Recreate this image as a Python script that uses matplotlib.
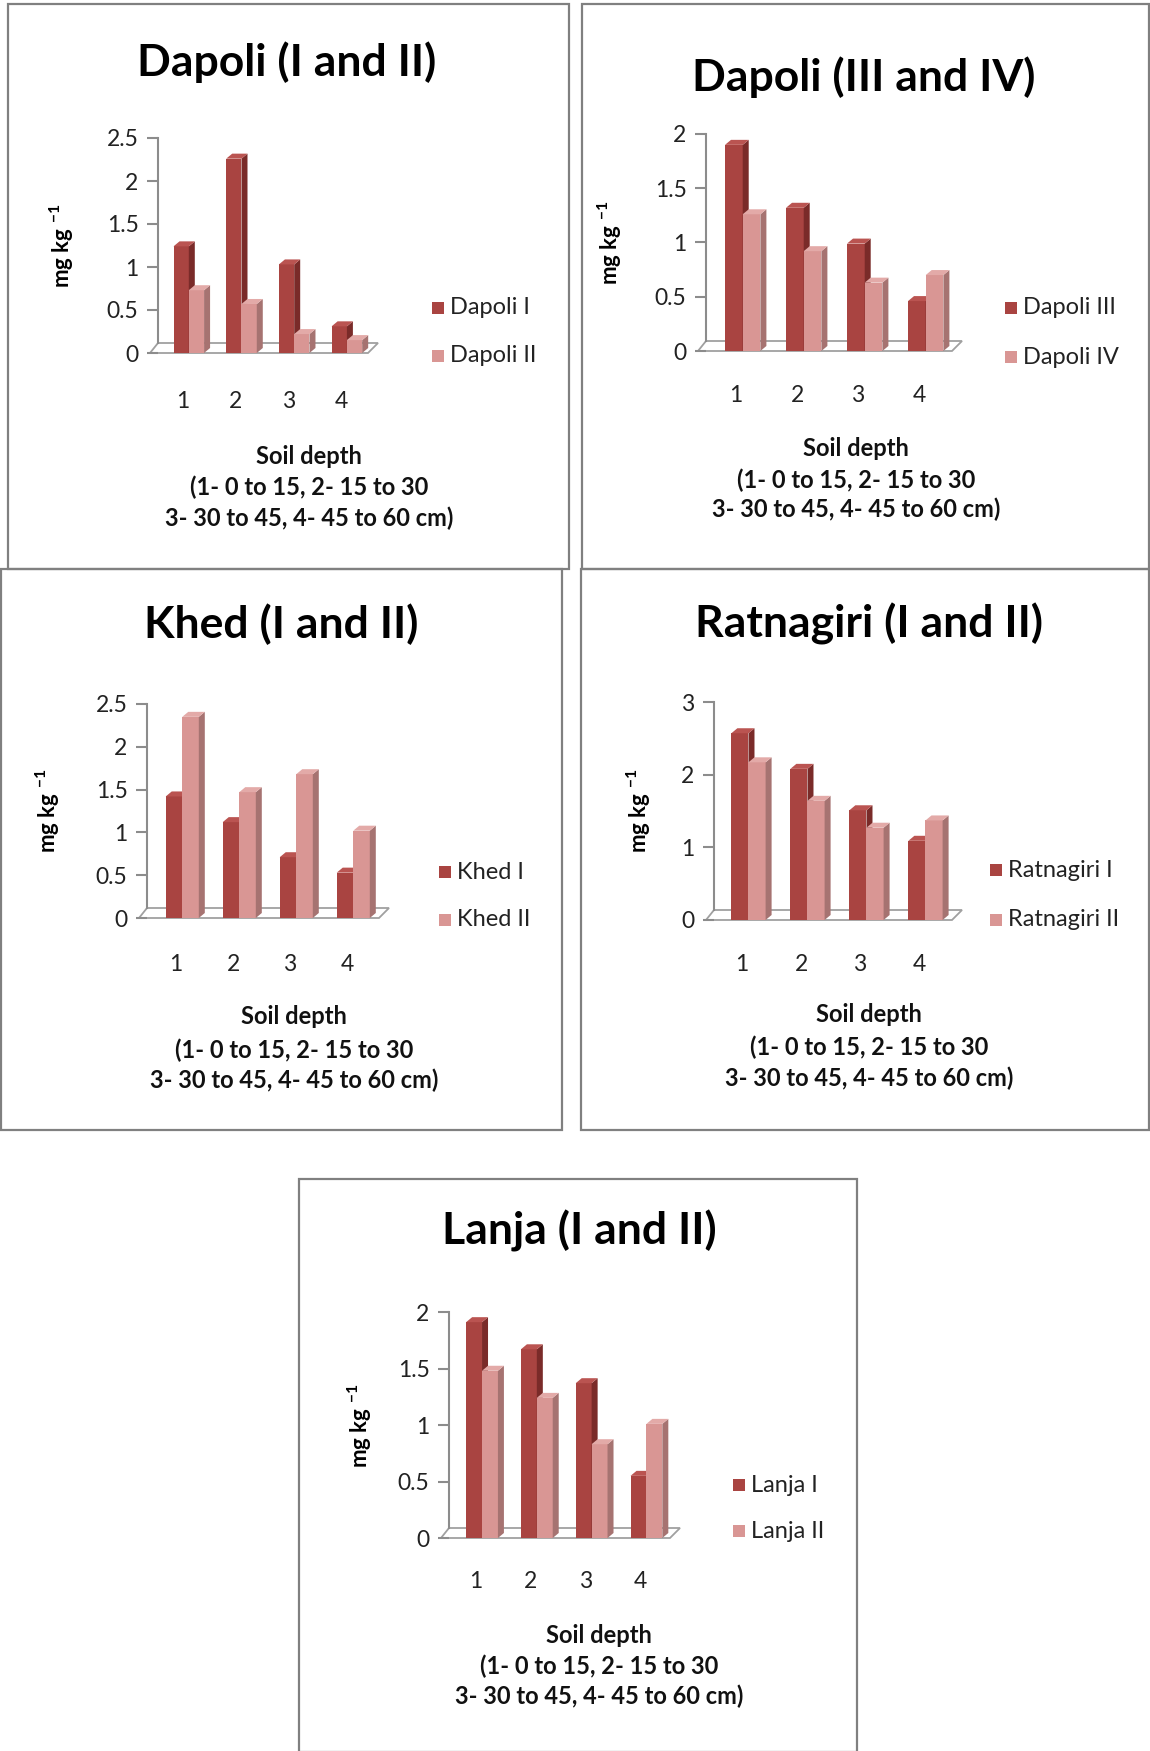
import matplotlib
matplotlib.use("Agg")
import matplotlib.pyplot as plt
from matplotlib.patches import Polygon, Rectangle

plt.rcParams['font.family'] = ['Lato', 'DejaVu Sans']
plt.rcParams['mathtext.fontset'] = 'custom'
plt.rcParams['mathtext.rm'] = 'Lato'
plt.rcParams['mathtext.default'] = 'regular'

# ---------------- data ----------------
depth_labels = ['1', '2', '3', '4']
xlabel_lines = ['Soil depth', '(1- 0 to 15, 2- 15 to 30', '3- 30 to 45, 4- 45 to 60 cm)']
ylabel_text = r'mg kg $^{-1}$'

titles = ['Dapoli (I and II)', 'Dapoli (III and IV)', 'Khed (I and II)',
          'Ratnagiri (I and II)', 'Lanja (I and II)']
series_names = [('Dapoli I', 'Dapoli II'), ('Dapoli III', 'Dapoli IV'),
                ('Khed I', 'Khed II'), ('Ratnagiri I', 'Ratnagiri II'),
                ('Lanja I', 'Lanja II')]

dapoli_1 = [1.24, 2.26, 1.03, 0.31]
dapoli_2 = [0.73, 0.57, 0.22, 0.15]
dapoli_3 = [1.90, 1.32, 0.99, 0.46]
dapoli_4 = [1.26, 0.92, 0.63, 0.70]
khed_1 = [1.42, 1.12, 0.71, 0.53]
khed_2 = [2.35, 1.47, 1.68, 1.02]
ratnagiri_1 = [2.57, 2.08, 1.51, 1.09]
ratnagiri_2 = [2.17, 1.64, 1.27, 1.37]
lanja_1 = [1.91, 1.67, 1.37, 0.55]
lanja_2 = [1.48, 1.24, 0.83, 1.01]

panel_values = [(dapoli_1, dapoli_2), (dapoli_3, dapoli_4), (khed_1, khed_2),
                (ratnagiri_1, ratnagiri_2), (lanja_1, lanja_2)]
y_max = [2.5, 2, 2.5, 3, 2]
y_step = [0.5, 0.5, 0.5, 1, 0.5]

# ---------------- layout (pixels) ----------------
W, H = 1150, 1751
layouts = [
    dict(box=(8, 4, 569, 569), axis_x=158, y0=353, ytop=138, cat1=183, sp=52.7, floor_end=368,
         cat_y=401, leg_x=432, leg_y=(308, 356), title=(287, 62), ylab=(62, 246),
         xlab_x=309, xlab_y=(456, 487, 518)),
    dict(box=(582, 4, 1149, 569), axis_x=706, y0=351, ytop=134, cat1=736, sp=61, floor_end=952,
         cat_y=395, leg_x=1005, leg_y=(308, 357), title=(864, 77), ylab=(610, 243),
         xlab_x=856, xlab_y=(449, 480, 509)),
    dict(box=(1, 569, 562, 1130), axis_x=147, y0=918, ytop=704, cat1=176, sp=57, floor_end=379,
         cat_y=964, leg_x=439, leg_y=(872, 920), title=(281, 624), ylab=(48, 811),
         xlab_x=294, xlab_y=(1017, 1050, 1080)),
    dict(box=(581, 569, 1149, 1130), axis_x=714, y0=920, ytop=702, cat1=742, sp=59, floor_end=952,
         cat_y=964, leg_x=990, leg_y=(870, 920), title=(869, 624), ylab=(639, 811),
         xlab_x=869, xlab_y=(1015, 1047, 1078)),
    dict(box=(299, 1179, 857, 1752), axis_x=449, y0=1538, ytop=1312, cat1=476, sp=54.8, floor_end=670,
         cat_y=1581, leg_x=733, leg_y=(1485, 1531), title=(579, 1231), ylab=(360, 1426),
         xlab_x=599, xlab_y=(1635, 1666, 1696)),
]

dark_front, dark_side, dark_top = '#A94441', '#7A2B29', '#BA5451'
light_front, light_side, light_top = '#D99694', '#A67371', '#E3AAA8'
axis_gray = '#8C8C8C'

fig = plt.figure(figsize=(W / 100, H / 100), dpi=100)


def fx(x):
    return x / W


def fy(y):
    return 1 - y / H


for i in range(5):
    L = layouts[i]
    v1, v2 = panel_values[i]
    ymax = y_max[i]
    sp = L['sp']
    ppu = (L['y0'] - L['ytop']) / ymax  # pixels per value unit

    # panel border
    bx0, by0, bx1, by1 = L['box']
    fig.add_artist(Rectangle((fx(bx0), fy(by1)), (bx1 - bx0) / W, (by1 - by0) / H,
                             transform=fig.transFigure, fill=False,
                             edgecolor='#808080', linewidth=1.6))

    x_left = 1 - (L['cat1'] - L['axis_x']) / sp
    right_px = L['floor_end'] + 14
    x_right = 1 + (right_px - L['cat1']) / sp
    ax = fig.add_axes([fx(L['axis_x']), fy(L['y0']),
                       (right_px - L['axis_x']) / W, (L['y0'] - L['ytop']) / H])
    ax.set_xlim(x_left, x_right)
    ax.set_ylim(0, ymax)
    ax.patch.set_alpha(0)

    ddx = 6 / sp
    ddy = 5 / ppu
    fdx = 10 / sp
    fdy = 10 / ppu

    # floor
    floor = Polygon([(x_left - 8 / sp, 0), (x_left + (L['floor_end'] - L['axis_x']) / sp, 0),
                     (x_left + (L['floor_end'] - L['axis_x']) / sp + fdx, fdy),
                     (x_left, fdy)], closed=True, facecolor='none', edgecolor='#A0A0A0',
                    linewidth=1.3, clip_on=False, zorder=1)
    ax.add_patch(floor)

    cats = [1, 2, 3, 4]
    w = 0.29
    for vals, offs, cf, cs, ct in [(v1, -0.18, dark_front, dark_side, dark_top),
                                   (v2, 0.11, light_front, light_side, light_top)]:
        lefts = [c + offs for c in cats]
        ax.bar(lefts, vals, width=w, align='edge', color=cf, linewidth=0, zorder=3)
        for x0, v in zip(lefts, vals):
            x1 = x0 + w
            ax.add_patch(Polygon([(x1, 0), (x1 + ddx, ddy), (x1 + ddx, v + ddy), (x1, v)],
                                 closed=True, facecolor=cs, edgecolor='none', zorder=3,
                                 clip_on=False))
            ax.add_patch(Polygon([(x0, v), (x0 + ddx, v + ddy), (x1 + ddx, v + ddy), (x1, v)],
                                 closed=True, facecolor=ct, edgecolor='none', zorder=3,
                                 clip_on=False))

    # axes styling
    for s in ['top', 'right', 'bottom']:
        ax.spines[s].set_visible(False)
    ax.spines['left'].set_color(axis_gray)
    ax.spines['left'].set_linewidth(1.5)
    ax.spines['left'].set_bounds(fdy, ymax)
    ticks = []
    t = 0.0
    while t <= ymax + 1e-9:
        ticks.append(round(t, 3))
        t += y_step[i]
    ax.set_yticks(ticks)
    ax.set_yticklabels([f'{v:g}' for v in ticks])
    ax.tick_params(axis='y', direction='out', length=8, width=1.5, color=axis_gray,
                   labelsize=16.5, pad=6, labelcolor='#222222')
    ax.set_xticks([])

    # category labels
    for c, lab in zip(cats, depth_labels):
        fig.text(fx(L['cat1'] + (c - 1) * sp), fy(L['cat_y']), lab, ha='center', va='center',
                 fontsize=16.5, color='#222222')

    # legend
    for (ly, name, col) in zip(L['leg_y'], series_names[i], [dark_front, light_front]):
        fig.add_artist(Rectangle((fx(L['leg_x']), fy(ly + 6)), 12 / W, 12 / H,
                                 transform=fig.transFigure, facecolor=col, edgecolor='none'))
        fig.text(fx(L['leg_x'] + 18), fy(ly), name, ha='left', va='center', fontsize=17,
                 color='#222222')

    # title
    fig.text(fx(L['title'][0]), fy(L['title'][1]), titles[i], ha='center', va='center',
             fontsize=32, fontweight='bold', color='black')

    # y label
    fig.text(fx(L['ylab'][0]), fy(L['ylab'][1]), ylabel_text, ha='center', va='center',
             rotation=90, fontsize=16, fontweight='bold', color='black')

    # x label lines
    for ly, line in zip(L['xlab_y'], xlabel_lines):
        fig.text(fx(L['xlab_x']), fy(ly), line, ha='center', va='center', fontsize=17,
                 fontweight='bold', color='#111111')

fig.savefig('out.png', dpi=100, facecolor='white')
